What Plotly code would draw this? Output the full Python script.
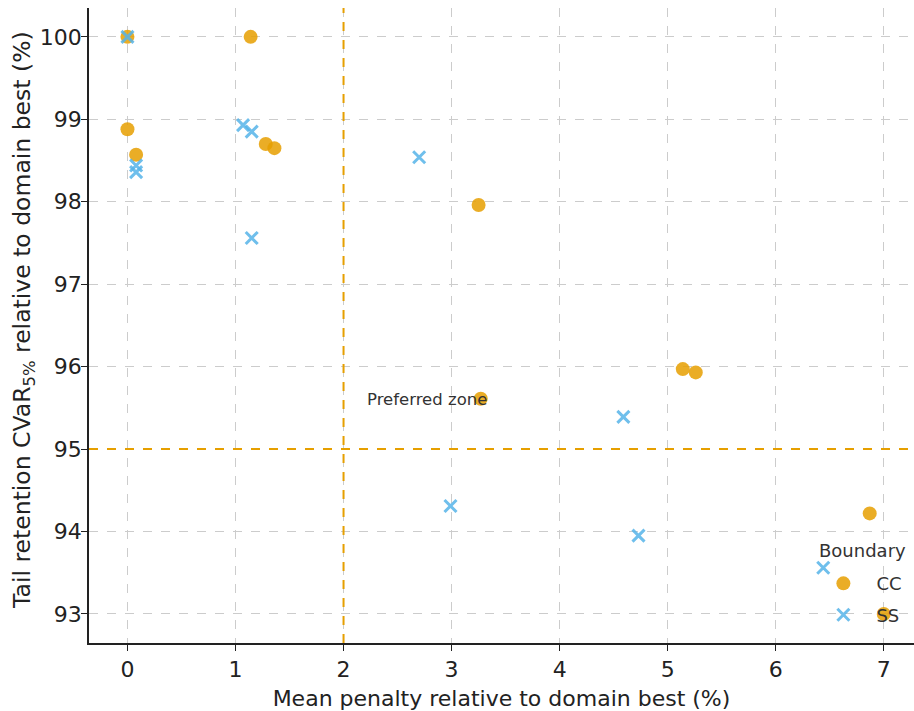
import plotly.graph_objects as go

# Mean penalty (%) and tail retention CVaR5% (%) per boundary type
cc_penalty = [0.0, 1.14, 0.0, 0.08, 1.28, 1.36, 3.25, 3.27, 5.14, 5.26, 6.87, 7.0]
cc_retention = [100.0, 100.0, 98.88, 98.57, 98.70, 98.65, 97.96, 95.61, 95.97, 95.93, 94.22, 93.0]

ss_penalty = [0.0, 0.08, 0.08, 1.07, 1.15, 1.15, 2.70, 4.59, 2.99, 4.73, 6.44]
ss_retention = [100.0, 98.44, 98.36, 98.93, 98.85, 97.56, 98.54, 95.39, 94.31, 93.95, 93.56]

penalty_threshold = 2.0
retention_threshold = 95.0

x_ticks = [0, 1, 2, 3, 4, 5, 6, 7]
y_ticks = [93, 94, 95, 96, 97, 98, 99, 100]

ORANGE = "#E69F00"
BLUE = "#56B4E9"
FONT = "DejaVu Sans, Verdana, sans-serif"
TEXT = "#222222"

fig = go.Figure()

fig.add_trace(go.Scatter(
    x=cc_penalty, y=cc_retention, mode="markers", name="CC",
    legendgroup="cc",
    marker=dict(symbol="circle", size=14, color=ORANGE, opacity=0.85,
                line=dict(width=0)),
))
fig.add_trace(go.Scatter(
    x=ss_penalty, y=ss_retention, mode="markers", name="SS",
    legendgroup="ss",
    marker=dict(symbol="x-thin", size=12, color=BLUE, opacity=0.85,
                line=dict(width=3, color=BLUE)),
))

# Threshold lines bounding the preferred region
fig.add_vline(x=penalty_threshold, line=dict(color=ORANGE, width=2, dash="dash"))
fig.add_hline(y=retention_threshold, line=dict(color=ORANGE, width=2, dash="dash"))

fig.add_annotation(
    x=2.2, y=95.6, text="Preferred zone", showarrow=False,
    xanchor="left", yanchor="middle",
    font=dict(family=FONT, size=16.5, color="#333333"),
)

# Y-axis title placed explicitly so it sits centred beside the tick labels
fig.add_annotation(
    xref="paper", yref="paper", x=-0.0788, y=0.5087,
    text="Tail retention CVaR<sub>5%</sub> relative to domain best (%)",
    textangle=-90, showarrow=False, xanchor="center", yanchor="middle",
    font=dict(family=FONT, size=23.5, color=TEXT),
)

# Legend heading
fig.add_annotation(
    xref="paper", yref="paper", x=0.937, y=0.1449,
    text="Boundary", showarrow=False, xanchor="center", yanchor="middle",
    font=dict(family=FONT, size=18, color="#333333"),
)

axis_common = dict(
    showgrid=True, gridcolor="#cccccc", gridwidth=1, griddash="dash",
    zeroline=False, showline=True, linecolor=TEXT, linewidth=1.5,
    ticks="outside", ticklen=6, tickwidth=1.2, tickcolor=TEXT,
    tickfont=dict(family=FONT, size=22, color=TEXT),
    mirror=False, automargin=False,
)

fig.update_xaxes(
    range=[-0.356, 7.28], tickvals=x_ticks,
    title=dict(text="Mean penalty relative to domain best (%)",
               font=dict(family=FONT, size=22, color=TEXT), standoff=12),
    **axis_common,
)
fig.update_yaxes(
    range=[92.648, 100.35], tickvals=y_ticks, ticklabelstandoff=-5,
    **axis_common,
)

fig.update_layout(
    width=914, height=711,
    margin=dict(l=89, r=0, t=8, b=68),
    plot_bgcolor="white", paper_bgcolor="white",
    font=dict(family=FONT, color=TEXT),
    legend=dict(
        font=dict(family=FONT, size=18, color="#333333"),
        x=0.8744, y=0.1226, xanchor="left", yanchor="top",
        bgcolor="rgba(0,0,0,0)", borderwidth=0,
        itemwidth=56, tracegroupgap=5,
    ),
)

fig.write_html("out.html")
